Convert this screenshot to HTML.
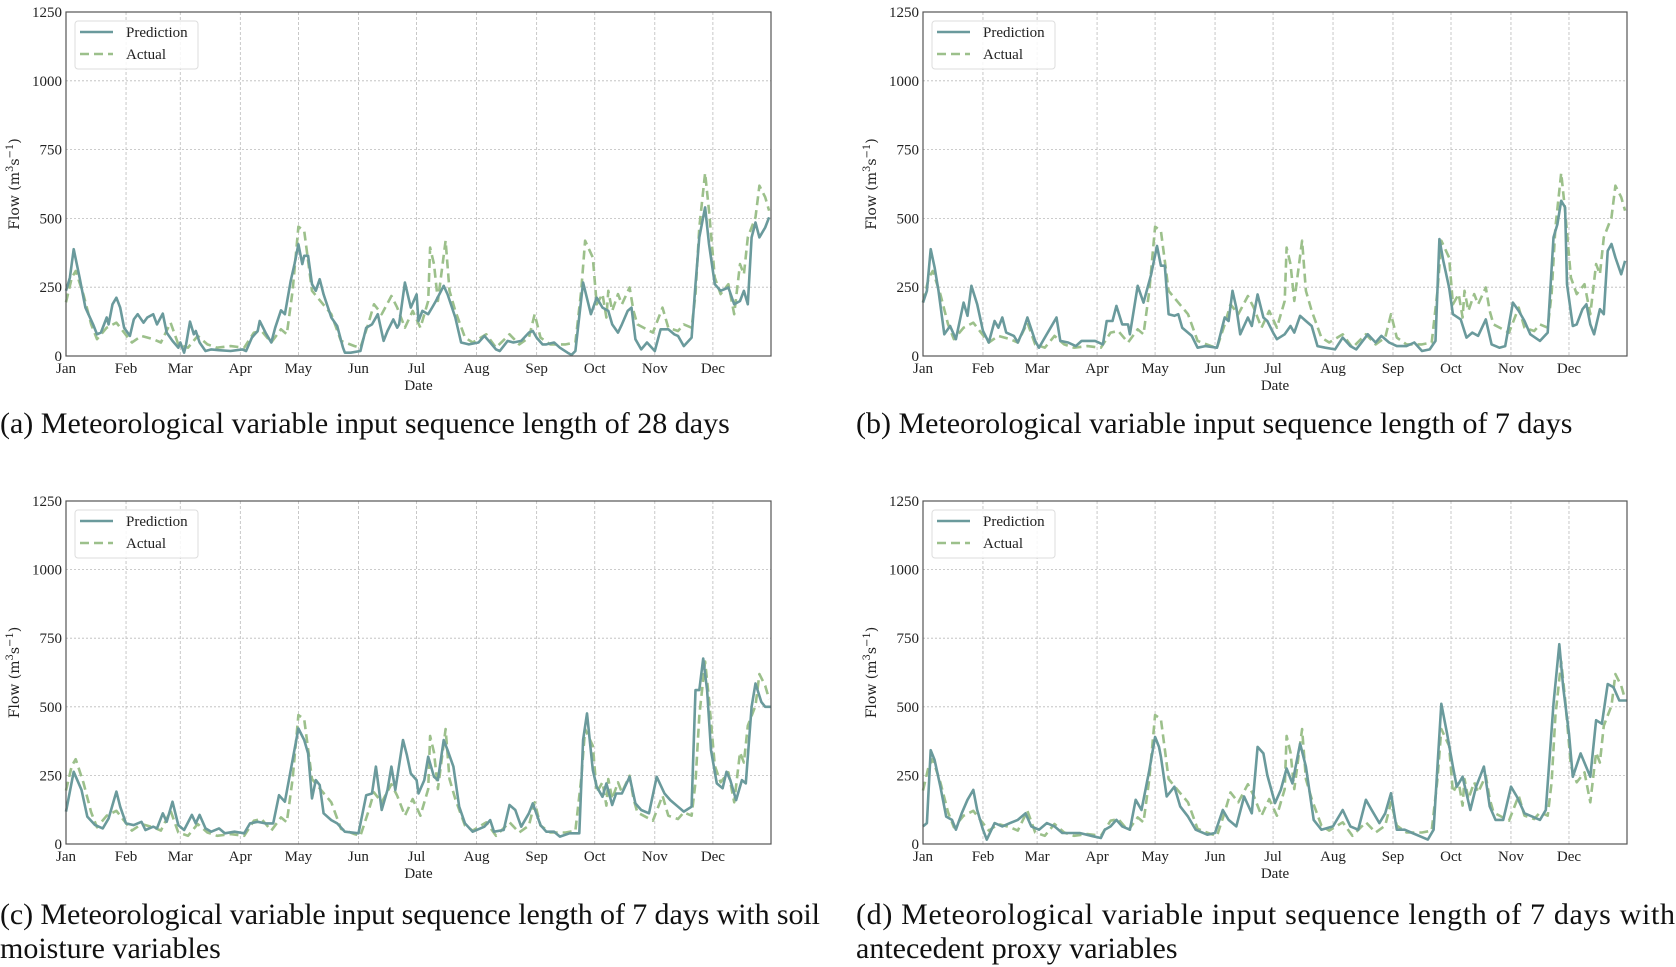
<!DOCTYPE html>
<html><head><meta charset="utf-8">
<style>
html,body{margin:0;padding:0;background:#fff;}
body{width:1676px;height:967px;overflow:hidden;position:relative;font-family:"Liberation Serif",serif;}
svg{position:absolute;left:0;top:0;}
.cap{position:absolute;font-family:"Liberation Serif",serif;font-size:30px;color:#111;line-height:35px;white-space:nowrap;}
</style></head>
<body>
<svg id="chart" width="1676" height="967"></svg>
<div class="cap" style="left:0;top:406px;">(a) Meteorological variable input sequence length of 28 days</div>
<div class="cap" style="left:856px;top:406px;">(b) Meteorological variable input sequence length of 7 days</div>
<div class="cap" style="left:0;top:931px;">moisture variables</div>
<div class="cap" style="left:856px;top:931px;">antecedent proxy variables</div>
<script>
const monthLabels=["Jan","Feb","Mar","Apr","May","Jun","Jul","Aug","Sep","Oct","Nov","Dec"];
const monthStartDays=[0,31,59,90,120,151,181,212,243,273,304,334];
const yTicks=[0,250,500,750,1000,1250];

const actualDays=[0,3,5,9,13,16,21,26,30,34,39,45,49,54,58,63,68,73,78,85,92,97,101,106,111,114,117,120,123,125,127,132,137,142,149,152,156,159,163,168,171,175,179,183,187,188,190,192,196,198,201,206,210,217,222,229,234,239,242,245,250,258,263,266,268,272,274,277,279,280,282,285,287,291,293,295,303,308,311,316,319,323,325,327,330,332,335,338,342,345,348,350,352,356,358,361,363];
const actualFlow=[195,285,309,224,115,61,103,121,85,49,73,61,49,121,42,30,73,42,30,36,30,85,91,49,97,79,237,470,455,346,237,194,152,55,36,30,115,188,152,218,176,103,164,103,200,394,334,200,419,237,164,67,49,79,30,79,42,67,152,67,42,42,49,237,419,358,188,225,140,237,164,225,188,249,164,115,85,176,103,91,115,103,225,467,665,528,285,225,261,152,334,297,431,504,619,577,528];

const predADays=[0,2,4,7,10,14,16,18,21,22,24,26,28,30,33,35,37,40,42,45,47,50,52,55,58,59,61,62,64,66,67,69,72,75,79,85,91,93,96,99,100,103,106,108,111,113,116,118,120,122,123,125,127,129,131,133,137,140,143,144,147,152,155,158,161,164,166,169,171,172,175,178,181,182,184,187,189,191,195,197,201,204,208,213,216,219,222,224,228,231,235,239,241,243,246,248,252,255,259,261,263,267,271,274,277,280,282,285,287,290,292,294,297,300,304,307,311,314,316,319,323,325,327,330,332,335,338,342,345,348,350,352,354,356,358,361,363];
const predAFlow=[237,285,388,285,176,115,79,85,140,115,188,212,176,103,73,133,152,121,140,152,115,154,85,55,30,49,12,42,125,79,91,49,18,24,21,18,24,18,67,91,127,85,49,103,166,152,273,334,406,334,364,364,261,237,279,224,140,109,30,12,12,18,103,115,152,55,91,133,103,115,267,176,224,127,164,152,176,200,255,224,140,49,42,49,73,49,24,18,55,49,55,85,91,67,42,42,49,30,12,4,18,267,152,212,176,164,115,85,115,164,176,61,24,49,18,97,97,79,73,36,67,261,431,540,407,261,237,249,188,200,237,188,431,485,431,467,504];

const predBDays=[0,2,4,6,8,11,14,17,21,23,25,28,31,34,37,39,41,43,47,49,52,54,58,60,63,66,69,71,75,79,82,89,93,95,98,100,103,106,107,111,114,118,121,123,125,127,130,132,134,139,142,146,152,156,158,160,162,164,168,170,173,176,178,181,183,187,190,192,195,198,201,204,208,213,217,221,224,230,234,237,241,245,250,254,258,262,265,267,269,272,274,278,281,284,287,291,294,298,301,305,308,311,314,319,323,326,328,330,332,333,336,338,341,343,345,347,350,352,354,356,358,361,363];
const predBFlow=[194,237,388,322,237,79,109,61,194,146,255,188,91,49,127,103,140,85,73,49,97,140,55,30,67,103,140,55,49,36,55,55,42,127,127,182,115,115,79,255,194,297,400,328,328,152,146,152,103,73,30,36,30,140,127,237,176,79,140,109,224,140,127,85,61,79,109,85,146,127,109,36,30,24,67,36,24,79,49,73,49,36,36,49,18,24,55,425,346,249,152,133,67,85,73,133,42,30,36,194,164,127,79,55,85,431,479,564,540,261,109,115,170,188,115,79,170,152,382,407,358,297,346];

const predCDays=[0,4,8,11,15,19,22,26,28,31,35,39,41,45,47,50,52,55,58,61,65,67,69,72,75,79,82,87,92,95,99,103,107,110,113,117,120,123,125,127,129,131,133,137,140,144,151,155,158,160,163,166,168,170,174,176,178,181,182,185,187,190,192,195,197,200,203,206,210,216,219,221,226,229,232,235,239,241,245,248,252,255,260,265,267,269,272,274,277,279,282,284,287,291,294,297,301,305,309,312,316,319,323,325,327,329,331,333,336,339,341,343,346,349,351,354,356,359,361,364];
const predCFlow=[118,263,197,100,69,57,93,191,136,75,69,81,51,63,57,112,81,154,69,51,106,75,106,57,45,57,39,45,39,75,81,75,75,178,154,306,421,379,330,166,233,215,112,87,75,45,39,178,184,282,124,197,282,197,379,324,257,233,184,233,318,245,233,379,342,282,136,75,45,63,87,45,51,142,124,63,112,148,69,45,45,27,39,39,379,476,270,209,172,221,142,184,184,245,148,124,112,245,184,160,136,118,136,561,561,676,561,342,221,203,263,233,160,233,221,500,585,518,500,500];

const predDDays=[0,2,4,6,9,12,15,17,20,23,26,28,31,33,37,41,45,49,53,56,60,64,68,72,81,88,92,94,97,100,103,107,110,113,117,120,122,123,126,130,133,137,141,147,151,155,158,162,166,170,173,176,178,182,185,188,191,195,198,202,206,212,217,221,225,229,232,236,239,242,245,249,253,257,261,264,268,271,274,276,279,283,286,290,293,296,300,304,307,311,315,319,322,326,329,331,334,336,340,345,348,351,354,357,360,364];
const predDFlow=[64,76,342,306,209,100,88,52,112,161,197,124,52,16,76,64,76,88,112,64,52,76,64,40,40,28,22,52,64,88,64,52,161,124,269,390,354,318,173,209,137,100,52,34,40,124,88,64,173,112,354,330,251,149,197,275,221,366,282,88,52,64,124,64,52,161,124,76,112,185,52,52,40,28,16,52,511,402,282,209,245,124,209,282,137,88,88,209,173,112,100,88,124,511,728,571,402,245,330,245,451,438,583,571,523,523];

const NS='http://www.w3.org/2000/svg';
const svg=document.getElementById('chart');
function mk(tag,attrs,parent){const e=document.createElementNS(NS,tag);for(const k in attrs)e.setAttribute(k,attrs[k]);(parent||svg).appendChild(e);return e;}

const panels=[
 {id:'a',L:66,R:771,T:12,B:356,pd:predADays,pf:predAFlow},
 {id:'b',L:923,R:1627,T:12,B:356,pd:predBDays,pf:predBFlow},
 {id:'c',L:66,R:771,T:501,B:844,pd:predCDays,pf:predCFlow},
 {id:'d',L:923,R:1627,T:501,B:844,pd:predDDays,pf:predDFlow}
];

panels.forEach(p=>{
  const g=mk('g',{});
  
  
  const xs=d=>p.L+(d/364)*(p.R-p.L);
  const ys=v=>p.B-(v/1250)*(p.B-p.T);
  yTicks.forEach(v=>{
    const l=mk('line',{x1:p.L,x2:p.R,y1:ys(v),y2:ys(v),stroke:'#bbb','stroke-width':0.8,'stroke-dasharray':'2,2'},g);
    
    
    const t=mk('text',{x:p.L-4,y:ys(v)+5,'text-anchor':'end','font-size':15,'font-family':'Liberation Serif, serif',fill:'#222'},g);
    t.textContent=v;
    
    
  });
  monthStartDays.forEach((d,i)=>{
    const l=mk('line',{x1:xs(d),x2:xs(d),y1:p.T,y2:p.B,stroke:'#bbb','stroke-width':0.8,'stroke-dasharray':'3,2'},g);
    
    
    const t=mk('text',{x:xs(d),y:p.B+17,'text-anchor':'middle','font-size':15,'font-family':'Liberation Serif, serif',fill:'#222'},g);
    t.textContent=monthLabels[i];
    
    
  });
  let ap='';actualDays.forEach((d,i)=>{ap+=(i?'L':'M')+xs(d).toFixed(1)+','+ys(actualFlow[i]).toFixed(1);});
  const a=mk('path',{d:ap,fill:'none',stroke:'#9cc08b','stroke-width':2.6,'stroke-dasharray':'9,5','stroke-linejoin':'round'},g);
  
  
  let pp='';p.pd.forEach((d,i)=>{pp+=(i?'L':'M')+xs(d).toFixed(1)+','+ys(p.pf[i]).toFixed(1);});
  const pr=mk('path',{d:pp,fill:'none',stroke:'#6a9a9c','stroke-width':2.6,'stroke-linejoin':'round'},g);
  
  
  const f=mk('rect',{x:p.L,y:p.T,width:p.R-p.L,height:p.B-p.T,fill:'none',stroke:'#555','stroke-width':1.2},g);
  
  
  const xt=mk('text',{x:(p.L+p.R)/2,y:p.B+34,'text-anchor':'middle','font-size':15,'font-family':'Liberation Serif, serif',fill:'#222'},g);
  xt.textContent='Date';
  
  
  const yx=p.L-47, yy=(p.T+p.B)/2;
  const yt=mk('text',{x:yx,y:yy,'text-anchor':'middle','font-size':14,'font-family':'DejaVu Serif, serif',fill:'#222',transform:'rotate(-90 '+yx+' '+yy+')'},g);
  yt.innerHTML='Flow (m<tspan dy="-6" font-size="10">3</tspan><tspan dy="6">s</tspan><tspan dy="-6" font-size="10">−1</tspan><tspan dy="6">)</tspan>';
  
  
  const lg=mk('g',{},g);
  
  
  mk('rect',{x:p.L+9,y:p.T+9,width:123,height:48,rx:3,fill:'#fff','fill-opacity':0.85,stroke:'#ddd','stroke-width':1},lg);
  const e1=mk('g',{},lg);
  
  
  mk('line',{x1:p.L+14,x2:p.L+47,y1:p.T+20,y2:p.T+20,stroke:'#6a9a9c','stroke-width':2.6},e1);
  const t1=mk('text',{x:p.L+60,y:p.T+25,'font-size':15,'font-family':'Liberation Serif, serif',fill:'#222'},e1);t1.textContent='Prediction';
  const e2=mk('g',{},lg);
  
  
  mk('line',{x1:p.L+14,x2:p.L+47,y1:p.T+42,y2:p.T+42,stroke:'#9cc08b','stroke-width':2.6,'stroke-dasharray':'9,5'},e2);
  const t2=mk('text',{x:p.L+60,y:p.T+47,'font-size':15,'font-family':'Liberation Serif, serif',fill:'#222'},e2);t2.textContent='Actual';
});

// caption first lines (c, d) fitted to justified width
const capC=mk('text',{x:0,y:924,'font-size':30,'font-family':'Liberation Serif, serif',fill:'#111',textLength:820,lengthAdjust:'spacing'});
capC.textContent='(c) Meteorological variable input sequence length of 7 days with soil';


const capD=mk('text',{x:856,y:924,'font-size':30,'font-family':'Liberation Serif, serif',fill:'#111',textLength:819,lengthAdjust:'spacing'});
capD.textContent='(d) Meteorological variable input sequence length of 7 days with';


</script>
</body></html>
